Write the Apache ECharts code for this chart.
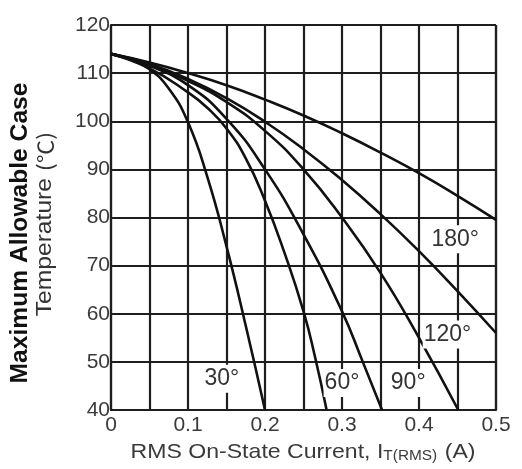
<!DOCTYPE html>
<html><head><meta charset="utf-8">
<script src="https://cdn.jsdelivr.net/npm/echarts@6/dist/echarts.min.js"></script>
<style>html,body{margin:0;padding:0;background:#fff}#c{width:522px;height:469px}</style>
</head><body><div id="c"></div>
<script>
// Case temperature (°C) vs RMS on-state current (A)
const curveTop = [[0,114],[0.05,112.2],[0.1,110],[0.15,107.5],[0.2,104.5],[0.25,101.2],[0.3,97.5],[0.35,93.5],[0.4,89.2],[0.45,84.5],[0.5,79.5]];
const curveE = [[0,114],[0.05,111.9],[0.1,108.8],[0.15,104.8],[0.2,99.9],[0.25,94.2],[0.3,87.8],[0.35,80.7],[0.4,73.0],[0.45,64.7],[0.5,56.0]];
const curveD = [[0,114],[0.05,111.7],[0.1,108.4],[0.15,104],[0.2,98],[0.25,90],[0.3,80],[0.35,68.5],[0.4,55],[0.451,40]];
const curveC = [[0,114],[0.05,111.5],[0.1,107.5],[0.15,100.5],[0.2,90],[0.25,76.5],[0.3,60.5],[0.327,50],[0.352,40]];
const curveB = [[0,114],[0.05,111],[0.1,106],[0.125,102.8],[0.15,98.5],[0.175,92.3],[0.2,83.5],[0.225,72.8],[0.25,60.5],[0.265,51],[0.28,40]];
const curveA = [[0,114],[0.025,112.8],[0.05,110.8],[0.075,106.8],[0.1,99.8],[0.125,88.5],[0.15,74],[0.175,57.5],[0.2,40]];
const angleLabels = ['30°','60°','90°','120°','180°'];
const angleLabelAt = [[0.144,46.5],[0.3,45.6],[0.386,45.6],[0.437,55.7],[0.447,75.5]];
const xTickLabels = ['0','0.1','0.2','0.3','0.4','0.5'];

const FONT = '"Liberation Sans", Arial, sans-serif';
const chart = echarts.init(document.getElementById('c'), null, {renderer:'canvas'});
const lineSeries = [curveTop, curveE, curveD, curveC, curveB, curveA].map(d => ({
  type:'line', data:d, smooth:0.5, showSymbol:false, symbol:'none',
  lineStyle:{color:'#111', width:2.6}, z:3, silent:true
}));
chart.setOption({
  animation:false,
  backgroundColor:'#fff',
  grid:{left:111, right:26, top:25, bottom:59, show:false},
  xAxis:{type:'value', min:0, max:0.5, interval:0.05,
    axisLine:{show:true, onZero:false, lineStyle:{color:'#1e1e1e', width:2.2}},
    axisTick:{show:false},
    splitLine:{show:true, lineStyle:{color:'#1e1e1e', width:2.2}},
    axisLabel:{margin:5, fontFamily:FONT, fontSize:21, color:'#3a3a3a',
      formatter:v => { const k = Math.round(v*100); return k % 10 === 0 ? xTickLabels[k/10] : ''; }}
  },
  yAxis:{type:'value', min:40, max:120, interval:10,
    axisLine:{show:true, onZero:false, lineStyle:{color:'#1e1e1e', width:2.2}},
    axisTick:{show:false},
    splitLine:{show:true, lineStyle:{color:'#1e1e1e', width:2.2}},
    axisLabel:{margin:1, fontFamily:FONT, fontSize:21, color:'#3a3a3a', padding:[0,0,5,0]}
  },
  series: lineSeries.concat([
    {type:'line', data:[[0.5,40],[0.5,120]], showSymbol:false, lineStyle:{color:'#1e1e1e', width:2.2}, z:2, silent:true},
    {type:'line', data:[[0,120],[0.5,120]], showSymbol:false, lineStyle:{color:'#1e1e1e', width:2.2}, z:2, silent:true},
    {type:'scatter', symbolSize:0, z:5, silent:true, itemStyle:{opacity:1},
      data: angleLabelAt.map((p,i)=>({value:p, name:angleLabels[i]})),
      label:{show:true, position:'inside', formatter:p=>p.name, fontFamily:FONT, fontSize:23, color:'#333', opacity:1,
        backgroundColor:'#fff', padding:[3,1,2,1]}}
  ]),
  graphic:[
    {type:'text', x:303, y:450, scaleX:1.1, z:10, style:{
      text:'{n|RMS On-State Current, I}{s|T(RMS)}{n| (A)}', x:0, y:0, align:'center', verticalAlign:'middle',
      rich:{n:{fontFamily:FONT, fontSize:21, fill:'#3a3a3a', lineHeight:26, verticalAlign:'bottom'},
            s:{fontFamily:FONT, fontSize:14, fill:'#3a3a3a', lineHeight:26, verticalAlign:'bottom', padding:[0,1,0,0]}}}},
    {type:'text', x:21, y:233, rotation:Math.PI/2, scaleX:1.07, z:10, style:{
      text:'Maximum Allowable Case', align:'center', verticalAlign:'middle',
      font:'bold 23px ' + FONT, fill:'#111'}},
    {type:'text', x:45, y:224, rotation:Math.PI/2, scaleX:1.12, z:10, style:{
      text:'{t|Temperature }{c|(\u2103)}', align:'center', verticalAlign:'middle',
      rich:{t:{fontFamily:FONT, fontSize:22, fill:'#333'}, c:{fontFamily:'"Noto Sans CJK SC", sans-serif', fontSize:21, fill:'#333'}}}}
  ]
});
</script></body></html>
